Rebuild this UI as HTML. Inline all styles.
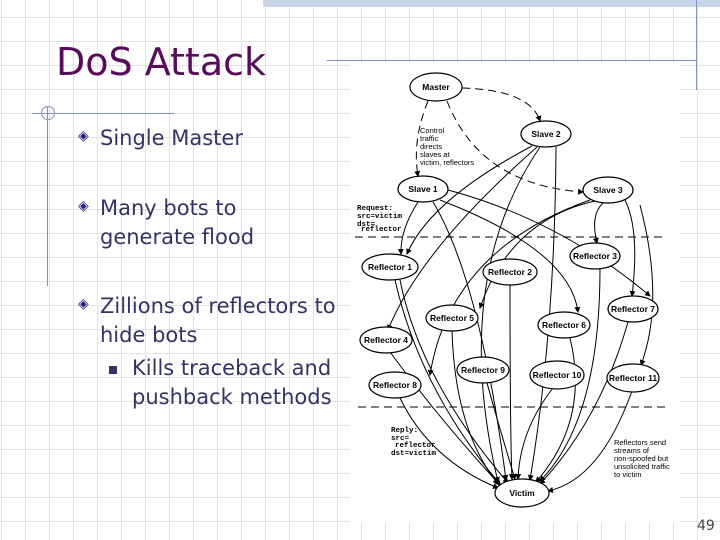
<!DOCTYPE html>
<html><head><style>
body{margin:0;width:720px;height:540px;overflow:hidden;background:#fff;position:relative;font-family:"DejaVu Sans","Liberation Sans",sans-serif;
background-image:linear-gradient(to right,#e2e2e2 1px,transparent 1px),linear-gradient(to bottom,#e2e2e2 1px,transparent 1px);background-size:24px 24px;background-position:1px 17px;}
.t{position:absolute;color:#5a0a5a;font-size:38px;left:56px;top:40px;}
.b{position:absolute;color:#333366;font-size:21px;line-height:29px;}
.d{position:absolute;color:#2a1a8a;font-size:14px;}
</style></head><body>
<div style="position:absolute;left:263px;top:0;width:457px;height:7px;background:#c8d4e8"></div>
<div style="position:absolute;left:327px;top:60px;width:370px;height:1px;background:#8090b8"></div>
<div style="position:absolute;left:696px;top:0;width:1px;height:90px;background:#8090b8"></div>
<div style="position:absolute;left:32px;top:113px;width:142px;height:1px;background:#8090b8"></div>
<div style="position:absolute;left:47px;top:106px;width:1px;height:180px;background:#8090b8"></div>
<div style="position:absolute;left:41px;top:106px;width:12px;height:12px;border:1px solid #8090b8;border-radius:50%"></div>
<div class="t">DoS Attack</div>
<div class="d" style="left:78px;top:128px">◈</div><div class="b" style="left:100px;top:124px">Single Master</div>
<div class="d" style="left:78px;top:198px">◈</div><div class="b" style="left:100px;top:194px">Many bots to<br>generate flood</div>
<div class="d" style="left:78px;top:296px">◈</div><div class="b" style="left:100px;top:292px">Zillions of reflectors to<br>hide bots</div>
<div style="position:absolute;left:109px;top:366px;width:8px;height:8px;background:#333366"></div>
<div class="b" style="left:132px;top:354px">Kills traceback and<br>pushback methods</div>
<div style="position:absolute;left:697px;top:518px;font-size:14px;color:#444">49</div>
<svg style="position:absolute;left:0;top:0" width="720" height="540" font-family="Liberation Sans,sans-serif" font-size="8.5" font-weight="bold">
<defs><marker id="a" markerWidth="6" markerHeight="6" refX="5" refY="3" orient="auto"><path d="M0,0L6,3L0,6z" fill="#000"/></marker></defs>
<rect x="350" y="62" width="330" height="460" fill="#fff"/>
<g fill="none" stroke="#000" stroke-width="1" stroke-dasharray="8,5">
<line x1="355" y1="237" x2="665" y2="237"/><line x1="358" y1="407" x2="668" y2="407"/>
<path d="M462,88 Q530,90 540,121" marker-end="url(#a)"/>
<path d="M428,101 Q412,140 418,176" marker-end="url(#a)"/>
<path d="M447,101 Q480,185 583,192" marker-end="url(#a)"/>
</g>
<g fill="none" stroke="#000" stroke-width="1" marker-end="url(#a)">
<path d="M418,202 Q400,230 401,254"/>
<path d="M433,202 Q480,280 506,480"/>
<path d="M448,190 Q560,220 650,296"/>
<path d="M440,200 Q570,250 578,312"/>
<path d="M532,146 Q430,200 407,254"/>
<path d="M537,147 Q420,250 388,330"/>
<path d="M540,147 Q450,280 498,482"/>
<path d="M556,147 Q555,330 530,480"/>
<path d="M595,201 Q510,220 480,308"/>
<path d="M590,200 Q450,250 430,375"/>
<path d="M603,203 Q590,215 597,243"/>
<path d="M625,200 Q640,230 632,296"/>
<path d="M640,205 Q665,300 641,365"/>
<path d="M400,280 Q420,380 508,483"/>
<path d="M395,280 Q420,390 500,484"/>
<path d="M510,285 Q510,430 512,479"/>
<path d="M600,269 Q600,420 540,481"/>
<path d="M452,331 Q455,430 498,484"/>
<path d="M570,338 Q590,420 536,482"/>
<path d="M628,322 Q600,420 540,484"/>
<path d="M390,352 Q440,420 500,485"/>
<path d="M400,398 Q430,460 498,488"/>
<path d="M487,383 Q500,430 515,479"/>
<path d="M553,388 Q520,430 518,479"/>
<path d="M632,391 Q600,480 548,491"/>
</g>
<g fill="#fff" stroke="#000" stroke-width="1.2">
<ellipse cx="436" cy="87" rx="26" ry="14"/><ellipse cx="546" cy="134" rx="25" ry="13"/>
<ellipse cx="423" cy="189" rx="25" ry="13"/><ellipse cx="608" cy="190" rx="25" ry="13"/>
<ellipse cx="390" cy="267" rx="28" ry="13"/><ellipse cx="510" cy="272" rx="27" ry="13"/>
<ellipse cx="595" cy="256" rx="25" ry="13"/><ellipse cx="452" cy="318" rx="26" ry="13"/>
<ellipse cx="564" cy="325" rx="26" ry="13"/><ellipse cx="633" cy="309" rx="25" ry="13"/>
<ellipse cx="386" cy="340" rx="26" ry="13"/><ellipse cx="483" cy="370" rx="26" ry="13"/>
<ellipse cx="557" cy="375" rx="27" ry="14"/><ellipse cx="395" cy="385" rx="26" ry="13"/>
<ellipse cx="633" cy="378" rx="26" ry="14"/><ellipse cx="522" cy="493" rx="27" ry="14"/>
</g>
<g text-anchor="middle">
<text x="436" y="90">Master</text><text x="546" y="137">Slave 2</text>
<text x="423" y="192">Slave 1</text><text x="608" y="193">Slave 3</text>
<text x="390" y="270">Reflector 1</text><text x="510" y="275">Reflector 2</text>
<text x="595" y="259">Reflector 3</text><text x="452" y="321">Reflector 5</text>
<text x="564" y="328">Reflector 6</text><text x="633" y="312">Reflector 7</text>
<text x="386" y="343">Reflector 4</text><text x="483" y="373">Reflector 9</text>
<text x="557" y="378">Reflector 10</text><text x="395" y="388">Reflector 8</text>
<text x="633" y="381">Reflector 11</text><text x="522" y="496">Victim</text>
</g>
<g font-weight="normal" font-size="7.5">
<text x="420" y="133">Control</text><text x="420" y="141">traffic</text><text x="420" y="149">directs</text><text x="420" y="157">slaves at</text><text x="420" y="165">victim, reflectors</text>
<text x="614" y="445">Reflectors send</text><text x="614" y="453">streams of</text><text x="614" y="461">non-spoofed but</text><text x="614" y="469">unsolicited traffic</text><text x="614" y="477">to victim</text>
</g>
<g font-family="Liberation Mono,monospace" font-size="7.5" font-weight="bold">
<text x="357" y="210">Request:</text><text x="357" y="218">src=victim</text><text x="357" y="226">dst=</text><text x="361" y="231">reflector</text>
<text x="391" y="432">Reply:</text><text x="391" y="440">src=</text><text x="395" y="447">reflector</text><text x="391" y="455">dst=victim</text>
</g>
</svg>
</body></html>
